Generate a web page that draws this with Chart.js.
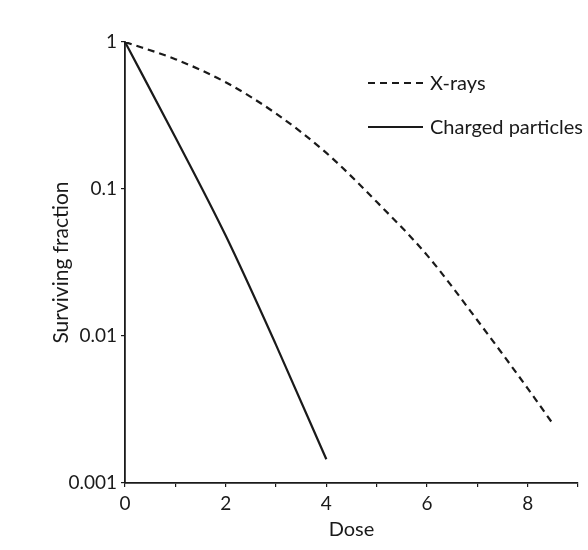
<!DOCTYPE html>
<html>
<head>
<meta charset="utf-8">
<script src="https://cdn.jsdelivr.net/npm/chart.js@4.4.1/dist/chart.umd.min.js"></script>
<style>
  html, body { margin: 0; padding: 0; background: #ffffff; }
  #wrap { width: 588px; height: 550px; position: relative; }
</style>
</head>
<body>
<div id="wrap"><canvas id="c" width="588" height="550"></canvas></div>
<script>
// ---- Data ----
const seriesNames = ["X-rays", "Charged particles"];
const xrayDose = [0, 1, 2, 3, 4, 5, 6, 7, 8, 8.5];
const xraySurv = [1, 0.764, 0.532, 0.326, 0.176, 0.0818, 0.0355, 0.0128, 0.0044, 0.00253];
const chargedDose = [0, 1, 2, 3, 4];
const chargedSurv = [1, 0.225, 0.0482, 0.0087, 0.00145];
const yTickValues = [0.001, 0.01, 0.1, 1];
const yTickLabels = ["0.001", "0.01", "0.1", "1"];
const xTickValues = [0, 1, 2, 3, 4, 5, 6, 7, 8, 9];
const xTickLabels = ["0", "", "2", "", "4", "", "6", "", "8", ""];
const xTitle = "Dose";
const yTitle = "Surviving fraction";

const FONT = "Lato, 'Open Sans', sans-serif";
const INK = "#1a1a1a";

function pts(xs, ys) { return xs.map((x, i) => ({ x: x, y: ys[i] })); }

const legendPlugin = {
  id: 'insideLegend',
  afterDatasetsDraw(chart) {
    const ctx = chart.ctx;
    const x0 = 368, x1 = 423, tx = 430;
    const rows = [83, 127];
    chart.data.datasets.forEach((ds, i) => {
      const y = rows[i];
      ctx.save();
      ctx.strokeStyle = ds.borderColor;
      ctx.lineWidth = ds.borderWidth;
      ctx.setLineDash(ds.borderDash || []);
      ctx.beginPath();
      ctx.moveTo(x0, y);
      ctx.lineTo(x1, y);
      ctx.stroke();
      ctx.setLineDash([]);
      ctx.fillStyle = INK;
      ctx.font = "20px " + FONT;
      ctx.textBaseline = "middle";
      ctx.textAlign = "left";
      ctx.fillText(ds.label, tx, y + 1);
      ctx.restore();
    });
  }
};

new Chart(document.getElementById('c'), {
  type: 'line',
  data: {
    datasets: [
      {
        label: seriesNames[0],
        data: pts(xrayDose, xraySurv),
        borderColor: INK,
        borderWidth: 2.2,
        borderDash: [7, 5],
        pointRadius: 0,
        cubicInterpolationMode: 'monotone',
        fill: false
      },
      {
        label: seriesNames[1],
        data: pts(chargedDose, chargedSurv),
        borderColor: INK,
        borderWidth: 2.2,
        pointRadius: 0,
        cubicInterpolationMode: 'monotone',
        fill: false
      }
    ]
  },
  options: {
    responsive: false,
    animation: false,
    devicePixelRatio: 1,
    layout: { padding: { left: 49, top: 42, right: 10, bottom: 0 } },
    plugins: { legend: { display: false }, tooltip: { enabled: false } },
    scales: {
      x: {
        type: 'linear',
        min: 0, max: 9,
        afterBuildTicks(scale) { scale.ticks = xTickValues.map(v => ({ value: v })); },
        afterFit(scale) { scale.height = 67; },
        ticks: {
          color: INK,
          font: { family: FONT, size: 19 },
          padding: 5,
          maxRotation: 0,
          autoSkip: false,
          callback: (v, i) => xTickLabels[i]
        },
        grid: { drawOnChartArea: false, tickLength: 4, color: INK, lineWidth: 1.2 },
        border: { display: true, color: INK, width: 1.8 },
        title: { display: true, text: xTitle, color: INK, font: { family: FONT, size: 20 }, padding: { top: 0, bottom: 8 } }
      },
      y: {
        type: 'logarithmic',
        min: 0.001, max: 1,
        afterBuildTicks(scale) { scale.ticks = yTickValues.map(v => ({ value: v })); },
        afterFit(scale) { scale.width = 76; },
        ticks: {
          color: INK,
          font: { family: FONT, size: 19 },
          padding: 4,
          autoSkip: false,
          callback: (v, i) => yTickLabels[i]
        },
        grid: { drawOnChartArea: false, tickLength: 4, color: INK, lineWidth: 1.2 },
        border: { display: true, color: INK, width: 1.8 },
        title: { display: true, text: yTitle, color: INK, font: { family: FONT, size: 21 }, padding: { top: 0, bottom: 0 } }
      }
    }
  },
  plugins: [legendPlugin]
});
</script>
</body>
</html>
